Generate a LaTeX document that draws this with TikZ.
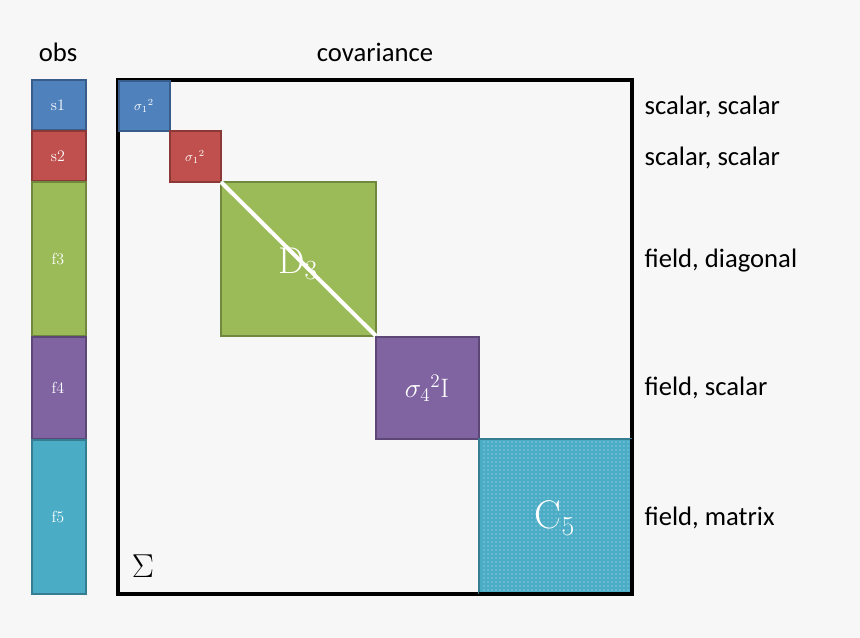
\documentclass[tikz,border=0pt]{standalone}
\usepackage{fontspec}
\newfontfamily\lab{Carlito}
\usetikzlibrary{patterns}
\definecolor{bg}{HTML}{F7F7F7}
\definecolor{cb}{HTML}{4F81BD}\definecolor{cbd}{HTML}{385D8A}
\definecolor{cr}{HTML}{C0504D}\definecolor{crd}{HTML}{8C3836}
\definecolor{cg}{HTML}{9BBB59}\definecolor{cgd}{HTML}{71893F}
\definecolor{cp}{HTML}{8064A2}\definecolor{cpd}{HTML}{5C4776}
\definecolor{cc}{HTML}{4BACC6}\definecolor{ccd}{HTML}{357D91}
\begin{document}
\begin{tikzpicture}[x=0.75pt,y=-0.75pt,
 blk/.style={draw=#1d,line width=1.5pt,fill=#1,text=white,font=\large},
 lbl/.style={anchor=west,font=\lab\fontsize{20}{24}\selectfont}]
\fill[bg] (0,0) rectangle (860,638);
\useasboundingbox (0,0) rectangle (860,638);
% obs column
\node[blk=cb,draw,minimum width=0,inner sep=0] (s1) at (58,105) {};
\draw[blk=cb] (32,80) rectangle (86,130); \node[text=white,font=\large] (ts1) at (58,105) {s1};
\draw[blk=cr] (32,131) rectangle (86,181); \node[text=white,font=\large] (ts2) at (58,156) {s2};
\draw[blk=cg] (32,182) rectangle (86,336); \node[text=white,font=\large] (tf3) at (58,259) {f3};
\draw[blk=cp] (32,337) rectangle (86,439); \node[text=white,font=\large] (tf4) at (58,388) {f4};
\draw[blk=cc] (32,440) rectangle (86,594); \node[text=white,font=\large] (tf5) at (58,517) {f5};
\node[font=\lab\fontsize{20}{24}\selectfont] (obs) at (58,52) {obs};
\node[font=\lab\fontsize{20}{24}\selectfont] (cov) at (375,52) {covariance};
% matrix
\draw[line width=2.5pt,fill=bg] (118,80) rectangle (632,594);
\draw[blk=cb] (119,81) rectangle (170,131); \node[text=white] (b1) at (144,106) {$\sigma_1{}^2$};
\draw[blk=cr] (170,131) rectangle (221,182); \node[text=white] (b2) at (195,157) {$\sigma_1{}^2$};
\draw[blk=cg] (221,182) rectangle (376,336);
\draw[white,line width=3pt] (221,182) -- (376,336);
\node[text=white,font=\fontsize{28}{30}\selectfont] (b3) at (298,264) {D$_3$};
\draw[blk=cp] (376,337) rectangle (479,439); \node[text=white,font=\fontsize{20}{24}\selectfont] (b4) at (427,388) {$\sigma_4{}^2$I};
\draw[blk=cc] (479,439) rectangle (631,593);
\fill[pattern=dots,pattern color=white!70!cc] (481,441) rectangle (629,591);
\draw[black,line width=2.5pt] (479,594) -- (632,594) -- (632,439);
\node[text=white,font=\fontsize{30}{32}\selectfont] (b5) at (555,518) {C$_5$};
\node[font=\fontsize{26}{28}\selectfont] (sig) at (143,566) {$\Sigma$};
% labels
\node[lbl] (l1) at (640,107) {scalar, scalar};
\node[lbl] (l2) at (640,158) {scalar, scalar};
\node[lbl] (l3) at (640,261) {field, diagonal};
\node[lbl] (l4) at (640,388) {field, scalar};
\node[lbl] (l5) at (640,518) {field, matrix};
\end{tikzpicture}
\end{document}
